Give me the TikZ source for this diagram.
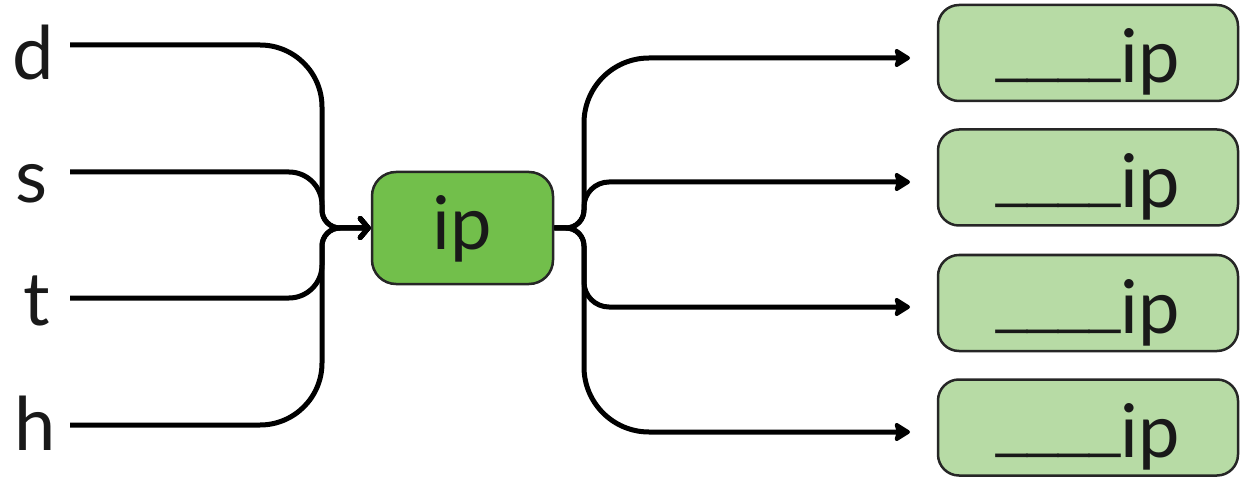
\documentclass[tikz,border=0pt]{standalone}
\usepackage{fontspec}
\setmainfont{Lato}
\newfontfamily\uscorefont{Liberation Sans}
\usetikzlibrary{arrows.meta}
\definecolor{midgreen}{HTML}{72BF4B}
\definecolor{lightgreen}{HTML}{B7DBA5}
\definecolor{edgegray}{HTML}{262626}
\newcommand{\blanks}{{\uscorefont\fontsize{56}{60}\selectfont\raisebox{11pt}{\_\_\_\_}}}
\begin{document}
\begin{tikzpicture}[x=1pt,y=-1pt,
  big/.style={font=\fontsize{74}{80}\selectfont, text=black!90},
  lett/.style={big, anchor=base, inner sep=0pt},
  mainbox/.style={big, draw=edgegray, line width=2.5pt, fill=midgreen, rounded corners=24pt,
     minimum width=181pt, minimum height=112pt, text height=44pt, text depth=0pt, inner sep=0pt},
  outbox/.style={big, draw=edgegray, line width=2.5pt, fill=lightgreen, rounded corners=21pt,
     minimum width=300pt, minimum height=96pt, text height=60pt, text depth=0pt, inner sep=0pt},
  inconn/.style={line width=5pt, -{Straight Barb[length=8pt,width=19pt,round]}},
  outconn/.style={line width=5pt, -{Stealth[length=18pt,width=22pt,inset=3pt,round]}}]
\useasboundingbox (0,0) rectangle (1245,481);

% letters
\node[lett] (ld) at (33,80) {d};
\node[lett] (ls) at (32,203) {s};
\node[lett] (lt) at (37,325) {t};
\node[lett] (lh) at (35,450) {h};

% boxes
\node[mainbox] (ip) at (462.5,228) {ip};
\node[outbox] (o1) at (1088,53) {\blanks ip};
\node[outbox] (o2) at (1088,177.5) {\blanks ip};
\node[outbox] (o3) at (1088,303) {\blanks ip};
\node[outbox] (o4) at (1088,427.5) {\blanks ip};

% line starts and arrow ends
\coordinate (sd) at (70,45);
\coordinate (ss) at (70,172);
\coordinate (st) at (70,298);
\coordinate (sh) at (70,425);
\coordinate (a1) at (910,58);
\coordinate (a2) at (910,182);
\coordinate (a3) at (910,307);
\coordinate (a4) at (910,432);

% inputs
\draw[inconn] (sd) -- (260,45) arc[start angle=-90,end angle=0,radius=62]
  -- (322,210) arc[start angle=180,end angle=90,radius=18] -- (ip.west);
\draw[inconn] (ss) -- (289,172) arc[start angle=-90,end angle=0,radius=33]
  -- (322,210) arc[start angle=180,end angle=90,radius=18] -- (ip.west);
\draw[inconn] (st) -- (289,298) arc[start angle=90,end angle=0,radius=33]
  -- (322,246) arc[start angle=180,end angle=270,radius=18] -- (ip.west);
\draw[inconn] (sh) -- (260,425) arc[start angle=90,end angle=0,radius=62]
  -- (322,246) arc[start angle=180,end angle=270,radius=18] -- (ip.west);

% outputs
\draw[outconn] (ip.east) -- (566,228) arc[start angle=90,end angle=0,radius=18]
  -- (584,123) arc[start angle=180,end angle=270,radius=65] -- (a1);
\draw[outconn] (ip.east) -- (566,228) arc[start angle=90,end angle=0,radius=18]
  -- (584,207) arc[start angle=180,end angle=270,radius=25] -- (a2);
\draw[outconn] (ip.east) -- (566,228) arc[start angle=270,end angle=360,radius=18]
  -- (584,282) arc[start angle=180,end angle=90,radius=25] -- (a3);
\draw[outconn] (ip.east) -- (566,228) arc[start angle=270,end angle=360,radius=18]
  -- (584,367) arc[start angle=180,end angle=90,radius=65] -- (a4);
\end{tikzpicture}
\end{document}
